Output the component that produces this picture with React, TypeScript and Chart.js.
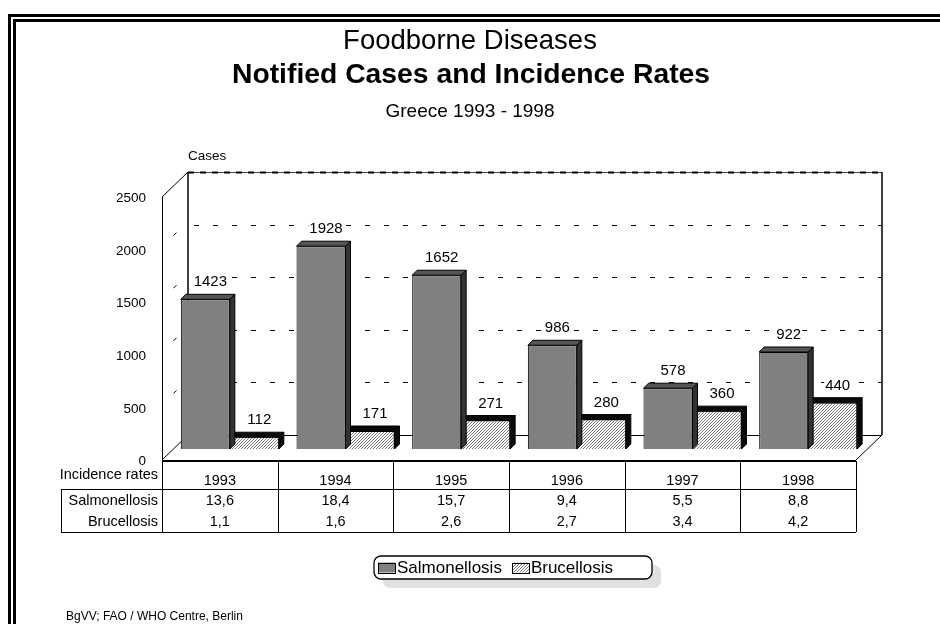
import React, { useEffect, useRef } from 'react';
import { Chart, registerables } from 'chart.js';

Chart.register(...registerables);

// ---------- data ----------
const years = ['1993', '1994', '1995', '1996', '1997', '1998'];
const salmonellosisCases = [1423, 1928, 1652, 986, 578, 922];
const brucellosisCases = [112, 171, 271, 280, 360, 440];
const salmonellosisRates = [13.6, 18.4, 15.7, 9.4, 5.5, 8.8];
const brucellosisRates = [1.1, 1.6, 2.6, 2.7, 3.4, 4.2];
const seriesNames = ['Salmonellosis', 'Brucellosis'];
const titleLines = ['Foodborne Diseases', 'Notified Cases and Incidence Rates', 'Greece 1993 - 1998'];
const axisTitle = 'Cases';
const tableHeader = 'Incidence rates';
const footerText = 'BgVV; FAO / WHO Centre, Berlin';
const yMin = 0;
const yMax = 2500;
const yStep = 500;

// ---------- style ----------
const FONT = '"Liberation Sans", Arial, Helvetica, sans-serif';
const FRONT = { dx: -10, dy: 11 };
const BACK = { dx: 16, dy: -14 };
const BAR_DEPTH = { dx: 5, dy: -5 };

const fmtRate = (v: number) => v.toFixed(1).replace('.', ',');

function makeHatch(): any {
  const c = document.createElement('canvas');
  c.width = 3;
  c.height = 3;
  const g = c.getContext('2d')!;
  g.fillStyle = '#ffffff';
  g.fillRect(0, 0, 3, 3);
  g.fillStyle = '#7a7a7a';
  for (let i = 0; i < 3; i++) g.fillRect(i, 2 - i, 1, 1);
  return g.createPattern(c, 'repeat');
}

function line(ctx: CanvasRenderingContext2D, x1: number, y1: number, x2: number, y2: number) {
  ctx.beginPath();
  ctx.moveTo(x1, y1);
  ctx.lineTo(x2, y2);
  ctx.stroke();
}

const faceColors = [
  { top: '#555555', side: '#333333' },
  { top: '#0a0a0a', side: '#0a0a0a' },
];

const decorPlugin = {
  id: 'decor3d',
  beforeDraw(chart: any) {
    const ctx: CanvasRenderingContext2D = chart.ctx;
    ctx.save();
    ctx.fillStyle = '#ffffff';
    ctx.fillRect(0, 0, chart.width, chart.height);
    // double frame (top and left visible)
    ctx.fillStyle = '#000000';
    ctx.fillRect(8, 14, chart.width, 3);
    ctx.fillRect(8, 14, 3, chart.height);
    ctx.fillRect(13, 19, chart.width, 3);
    ctx.fillRect(13, 19, 3, chart.height);
    // titles
    ctx.textAlign = 'center';
    ctx.textBaseline = 'middle';
    ctx.fillStyle = '#000';
    ctx.font = `27.5px ${FONT}`;
    ctx.fillText(titleLines[0], 470, 41);
    ctx.font = `bold 28.3px ${FONT}`;
    ctx.fillText(titleLines[1], 471, 75);
    ctx.font = `19px ${FONT}`;
    ctx.fillText(titleLines[2], 470, 112);
    ctx.restore();
  },
  beforeDatasetsDraw(chart: any) {
    const ctx: CanvasRenderingContext2D = chart.ctx;
    const a = chart.chartArea;
    const ys = chart.scales.y;
    const yv = (v: number) => ys.getPixelForValue(v);
    const L = a.left, R = a.right;
    const bL = L + BACK.dx, bR = R + BACK.dx;
    const fL = L + FRONT.dx, fR = R + FRONT.dx;
    const y0b = yv(ys.min) + BACK.dy, y0f = yv(ys.min) + FRONT.dy;
    const yTb = yv(ys.max) + BACK.dy, yTf = yv(ys.max) + FRONT.dy;
    const ticks: number[] = ys.ticks.map((t: any) => t.value);
    ctx.save();
    ctx.strokeStyle = '#000';
    ctx.lineWidth = 1;
    // dashed gridlines on back wall
    ctx.setLineDash([5, 14]);
    for (const v of ticks) {
      if (v === ys.min || v === ys.max) continue;
      const y = Math.round(yv(v) + BACK.dy) + 0.5;
      line(ctx, bL + 6, y, bR, y);
    }
    ctx.setLineDash([]);
    // top edge of back wall
    ctx.strokeStyle = '#444';
    line(ctx, bL, Math.round(yTb) + 0.5, bR, Math.round(yTb) + 0.5);
    ctx.strokeStyle = '#000';
    ctx.lineWidth = 2;
    ctx.setLineDash([6, 6]);
    line(ctx, bL, Math.round(yTb) + 0.5, bR, Math.round(yTb) + 0.5);
    ctx.setLineDash([]);
    // back wall vertical edges
    ctx.lineWidth = 1.5;
    line(ctx, bL, yTb, bL, y0b);
    line(ctx, bR, yTb, bR, y0b);
    // back floor edge
    ctx.lineWidth = 1;
    line(ctx, bL, Math.round(y0b) + 0.5, bR, Math.round(y0b) + 0.5);
    // floor side edges
    line(ctx, fL, y0f, bL, y0b);
    line(ctx, fR, y0f, bR, y0b);
    // front axis + top diagonal
    line(ctx, Math.round(fL) + 0.5, yTf, Math.round(fL) + 0.5, y0f);
    line(ctx, fL, yTf, bL, yTb);
    // front floor edge
    ctx.lineWidth = 2;
    line(ctx, fL, Math.round(y0f) + 1, fR, Math.round(y0f) + 1);
    ctx.lineWidth = 1;
    // small tick marks on left side wall
    const mx = (fL + bL) / 2;
    for (const v of ticks) {
      if (v === ys.min || v === ys.max) continue;
      const my = yv(v) + (FRONT.dy + BACK.dy) / 2 - 3;
      line(ctx, mx - 1.5, my + 1.5, mx + 1.5, my - 1.5);
    }
    // tick labels (front plane)
    ctx.fillStyle = '#000';
    ctx.font = `13.5px ${FONT}`;
    ctx.textAlign = 'right';
    ctx.textBaseline = 'middle';
    for (const v of ticks) {
      ctx.fillText(String(v), fL - 16, yv(v) + FRONT.dy + 1.5);
    }
    // axis title
    ctx.textAlign = 'left';
    ctx.font = `13.5px ${FONT}`;
    ctx.fillText(axisTitle, bL, yTb - 16);
    ctx.restore();
  },
  beforeDatasetDraw(chart: any, args: any) {
    const ctx: CanvasRenderingContext2D = chart.ctx;
    const meta = args.meta;
    const col = faceColors[args.index] || faceColors[0];
    ctx.save();
    ctx.strokeStyle = '#000';
    ctx.lineWidth = 1;
    for (const el of meta.data) {
      const p = el.getProps(['x', 'y', 'base', 'width'], true);
      const l = p.x - p.width / 2, r = p.x + p.width / 2;
      const t = Math.min(p.y, p.base), b = Math.max(p.y, p.base);
      // side face
      ctx.fillStyle = col.side;
      ctx.beginPath();
      ctx.moveTo(r, t);
      ctx.lineTo(r + BAR_DEPTH.dx, t + BAR_DEPTH.dy);
      ctx.lineTo(r + BAR_DEPTH.dx, b + BAR_DEPTH.dy);
      ctx.lineTo(r, b);
      ctx.closePath();
      ctx.fill();
      ctx.stroke();
      // top face
      ctx.fillStyle = col.top;
      ctx.beginPath();
      ctx.moveTo(l, t);
      ctx.lineTo(l + BAR_DEPTH.dx, t + BAR_DEPTH.dy);
      ctx.lineTo(r + BAR_DEPTH.dx, t + BAR_DEPTH.dy);
      ctx.lineTo(r, t);
      ctx.closePath();
      ctx.fill();
      ctx.stroke();
    }
    ctx.restore();
  },
  afterDatasetsDraw(chart: any) {
    const ctx: CanvasRenderingContext2D = chart.ctx;
    ctx.save();
    ctx.font = `15px ${FONT}`;
    ctx.textAlign = 'center';
    ctx.textBaseline = 'middle';
    chart.data.datasets.forEach((ds: any, di: number) => {
      const meta = chart.getDatasetMeta(di);
      meta.data.forEach((el: any, i: number) => {
        const p = el.getProps(['x', 'y'], true);
        const txt = String(ds.data[i]);
        const w = ctx.measureText(txt).width;
        const cx = p.x + 5, cy = p.y - 17;
        ctx.fillStyle = '#fff';
        ctx.fillRect(cx - w / 2 - 1, cy - 7, w + 2, 14);
        ctx.fillStyle = '#000';
        ctx.fillText(txt, cx, cy);
      });
    });
    ctx.restore();
  },
  afterDraw(chart: any) {
    const ctx: CanvasRenderingContext2D = chart.ctx;
    const a = chart.chartArea;
    const ys = chart.scales.y;
    const xs = chart.scales.x;
    const n = chart.data.labels.length;
    const catW = (a.right - a.left) / n;
    const fL = a.left + FRONT.dx, fR = a.right + FRONT.dx;
    const yTop = ys.getPixelForValue(ys.min) + FRONT.dy + 1;
    const yHead = yTop + 28, yRow1 = yHead + 21.5, yRow2 = yRow1 + 21.5;
    const tableLeft = 61;
    ctx.save();
    ctx.strokeStyle = '#000';
    ctx.lineWidth = 1;
    const px = (v: number) => Math.round(v) + 0.5;
    line(ctx, tableLeft, px(yHead), fR, px(yHead));
    line(ctx, tableLeft, px(yRow2), fR, px(yRow2));
    line(ctx, px(tableLeft), yHead, px(tableLeft), yRow2);
    for (let i = 0; i <= n; i++) {
      const x = px(a.left + i * catW + FRONT.dx);
      line(ctx, x, yTop, x, yRow2);
    }
    ctx.fillStyle = '#000';
    ctx.font = `14.5px ${FONT}`;
    ctx.textBaseline = 'middle';
    ctx.textAlign = 'right';
    ctx.fillText(tableHeader, fL - 4, yTop + 14);
    ctx.fillText(seriesNames[0], fL - 4, (yHead + yRow1) / 2 + 1);
    ctx.fillText(seriesNames[1], fL - 4, (yRow1 + yRow2) / 2 + 1);
    ctx.textAlign = 'center';
    for (let i = 0; i < n; i++) {
      const cx = xs.getPixelForValue(i) + FRONT.dx;
      ctx.fillText(String(chart.data.labels[i]), cx, yTop + 20);
      ctx.fillText(fmtRate(salmonellosisRates[i]), cx, (yHead + yRow1) / 2 + 1);
      ctx.fillText(fmtRate(brucellosisRates[i]), cx, (yRow1 + yRow2) / 2 + 1);
    }
    // legend
    const bx = 374, by = 556, bw = 278, bh = 23, rr = 7;
    const rrect = (x: number, y: number, w: number, h: number, r: number) => {
      ctx.beginPath();
      ctx.moveTo(x + r, y);
      ctx.arcTo(x + w, y, x + w, y + h, r);
      ctx.arcTo(x + w, y + h, x, y + h, r);
      ctx.arcTo(x, y + h, x, y, r);
      ctx.arcTo(x, y, x + w, y, r);
      ctx.closePath();
    };
    ctx.fillStyle = '#e0e0e0';
    rrect(bx + 9, by + 9, bw, bh, rr);
    ctx.fill();
    ctx.fillStyle = '#fff';
    rrect(bx, by, bw, bh, rr);
    ctx.fill();
    ctx.lineWidth = 1.3;
    ctx.strokeStyle = '#000';
    ctx.stroke();
    ctx.lineWidth = 1;
    ctx.font = `17px ${FONT}`;
    ctx.textAlign = 'left';
    const cy = by + bh / 2;
    let x = bx + 4;
    chart.data.datasets.forEach((ds: any) => {
      ctx.fillStyle = ds.backgroundColor;
      ctx.fillRect(x, cy - 5, 17, 10);
      ctx.strokeRect(Math.round(x) + 0.5, Math.round(cy - 5) + 0.5, 17, 10);
      ctx.fillStyle = '#000';
      ctx.fillText(ds.label, x + 19, cy + 1);
      x += 19 + ctx.measureText(ds.label).width + 10;
    });
    // footer
    ctx.font = `12px ${FONT}`;
    ctx.fillText(footerText, 66, 617);
    ctx.restore();
  },
};

export default function App() {
  const ref = useRef<HTMLCanvasElement | null>(null);
  useEffect(() => {
    const canvas = ref.current;
    if (!canvas) return;
    const hatch = makeHatch();
    const chart = new Chart(canvas, {
      type: 'bar',
      data: {
        labels: years,
        datasets: [
          {
            label: seriesNames[0],
            data: salmonellosisCases,
            backgroundColor: '#808080',
            borderColor: '#000000',
            borderWidth: 1,
            barPercentage: 1,
            categoryPercentage: 0.847,
          },
          {
            label: seriesNames[1],
            data: brucellosisCases,
            backgroundColor: hatch,
            borderColor: '#000000',
            borderWidth: 1,
            barPercentage: 1,
            categoryPercentage: 0.847,
          },
        ],
      },
      options: {
        animation: false,
        responsive: false,
        maintainAspectRatio: false,
        devicePixelRatio: 1,
        layout: { padding: { left: 172, right: 74, top: 186, bottom: 175 } },
        plugins: {
          legend: { display: false },
          title: { display: false },
          tooltip: { enabled: false },
        },
        scales: {
          x: { display: false, grid: { display: false } },
          y: {
            display: false,
            min: yMin,
            max: yMax,
            ticks: { stepSize: yStep },
            grid: { display: false },
          },
        },
      },
      plugins: [decorPlugin],
    } as any);
    return () => chart.destroy();
  }, []);
  return (
    <div style={{ position: 'fixed', left: 0, top: 0, width: 940, height: 624, background: '#fff' }}>
      <canvas ref={ref} width={940} height={624} style={{ width: 940, height: 624, display: 'block' }} />
    </div>
  );
}
